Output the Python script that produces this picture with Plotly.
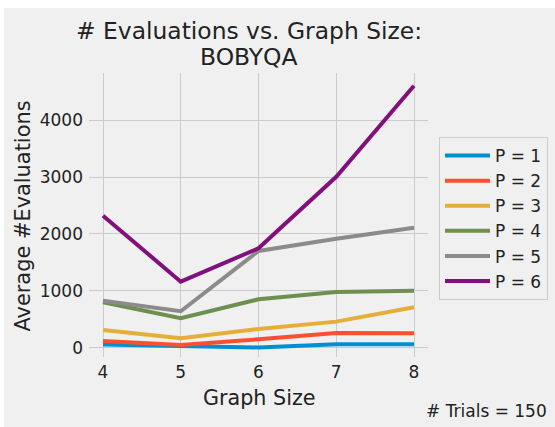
import plotly.graph_objects as go

graph_sizes = [4, 5, 6, 7, 8]
p1 = [53, 30, 3, 60, 60]
p2 = [118, 47, 148, 258, 253]
p3 = [311, 165, 329, 457, 710]
p4 = [798, 517, 850, 979, 1002]
p5 = [826, 640, 1700, 1916, 2109]
p6 = [2320, 1160, 1747, 3005, 4605]

series = [("P = 1", p1, "#008fd5"), ("P = 2", p2, "#fc4f30"), ("P = 3", p3, "#e5ae38"),
          ("P = 4", p4, "#6d904f"), ("P = 5", p5, "#8b8b8b"), ("P = 6", p6, "#810f7c")]

# figure is placed at (4, 8) in the page (white strip on top/left like the reference)
W, H = 551, 419
L, R, T, B = 85, 424, 65, 349
pw, ph = R - L, B - T

def px(x):
    return (x - L) / pw

def py(y):
    return (B - y) / ph

fig = go.Figure()
for name, vals, col in series:
    fig.add_trace(go.Scatter(x=graph_sizes, y=vals, mode="lines", name=name,
                             line=dict(color=col, width=4), legendgroup=name))

FONT = "DejaVu Sans"
TXT = "#222222"
fig.update_layout(
    width=W, height=H,
    margin=dict(l=L, r=W - R, t=T, b=H - B, autoexpand=False),
    paper_bgcolor="#f0f0f0", plot_bgcolor="#f0f0f0",
    font=dict(family=FONT, color=TXT, size=17),
    showlegend=True,
    legend=dict(x=px(435), xanchor="left", y=py(129), yanchor="top",
                bgcolor="#f0f0f0", bordercolor="#cccccc", borderwidth=1,
                font=dict(size=17, family=FONT, color=TXT), tracegroupgap=0, itemwidth=45),
    annotations=[
        dict(text="# Evaluations vs. Graph Size:", xref="paper", yref="paper",
             x=px(244.5), y=py(22.6), xanchor="center", yanchor="middle", showarrow=False,
             font=dict(size=23.4, family=FONT, color=TXT)),
        dict(text="BOBYQA", xref="paper", yref="paper",
             x=px(244.5), y=py(49.2), xanchor="center", yanchor="middle", showarrow=False,
             font=dict(size=23.4, family=FONT, color=TXT)),
        dict(text="Graph Size", xref="paper", yref="paper",
             x=px(255), y=py(389.7), xanchor="center", yanchor="middle", showarrow=False,
             font=dict(size=20.7, family=FONT, color=TXT)),
        dict(text="Average #Evaluations", xref="paper", yref="paper", textangle=-90,
             x=px(18.5), y=py(208), xanchor="center", yanchor="middle", showarrow=False,
             font=dict(size=20.9, family=FONT, color=TXT)),
        dict(text="# Trials = 150", xref="paper", yref="paper",
             x=px(545.3), y=py(403.3), xanchor="right", yanchor="middle",
             showarrow=False, font=dict(size=17, family=FONT, color=TXT)),
    ],
)
fig.update_xaxes(range=[3.82, 8.18], tickvals=graph_sizes, showgrid=True, gridcolor="#cbcbcb",
                 gridwidth=1, zeroline=False, showline=False, ticks="",
                 tickfont=dict(size=17), ticklabelstandoff=3, automargin=False)
fig.update_yaxes(range=[-165, 4830], tickvals=[0, 1000, 2000, 3000, 4000], showgrid=True,
                 gridcolor="#cbcbcb", gridwidth=1, zeroline=False, showline=False, ticks="",
                 tickfont=dict(size=17), ticklabelstandoff=5, automargin=False)

fig.write_html("out.html", post_script="document.body.style.margin='8px 0px 0px 4px';")
